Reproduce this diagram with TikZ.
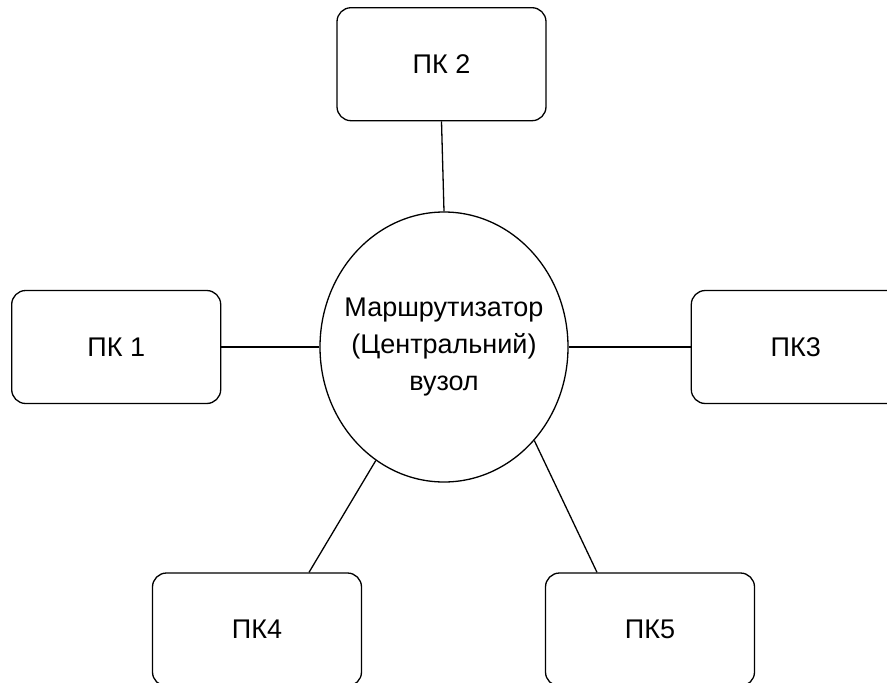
\documentclass[tikz,border=0pt]{standalone}
\usepackage{fontspec}
\setmainfont{Liberation Sans}
\usetikzlibrary{positioning,shapes.geometric}

\begin{document}
\begin{tikzpicture}[-,x=1pt,y=-1pt,line width=1.3pt,node distance=90pt,
  pc node/.style={rectangle,rounded corners=14pt,draw,minimum width=209pt,minimum height=113pt,font=\fontsize{27}{32}\selectfont},
  hub node/.style={ellipse,draw,minimum width=248pt,minimum height=270pt,inner sep=0pt},
  hub text/.style={align=center,font=\fontsize{27}{37}\selectfont}]
   \useasboundingbox (0,0) rectangle (887,683);
   \node[hub node,label={[hub text]center:Маршрутизатор\\(Центральний)\\вузол}] (router) at (444,347) {};
   \node[pc node]   (pc2)  [above=90pt of router,xshift=-2.5pt]  {ПК 2};
   \node[pc node]   (pc1)  [left=98pt of router]                  {ПК 1};
   \node[pc node]   (pc3)  [right=122pt of router]                {ПК3};
   \node[pc node]   (pc4)                                      at (257,629.5) {ПК4};
   \node[pc node]   (pc5)                                      at (650,629.5) {ПК5};
    \path
    (router.north)  edge  (pc2.south)
    (router.west)   edge  (pc1.east)
    (router.east)   edge  (pc3.west)
    (router.239.5)  edge  ([xshift=52pt]pc4.north)
    (router.314.4)  edge  ([xshift=-53pt]pc5.north);
\end{tikzpicture}
\end{document}
